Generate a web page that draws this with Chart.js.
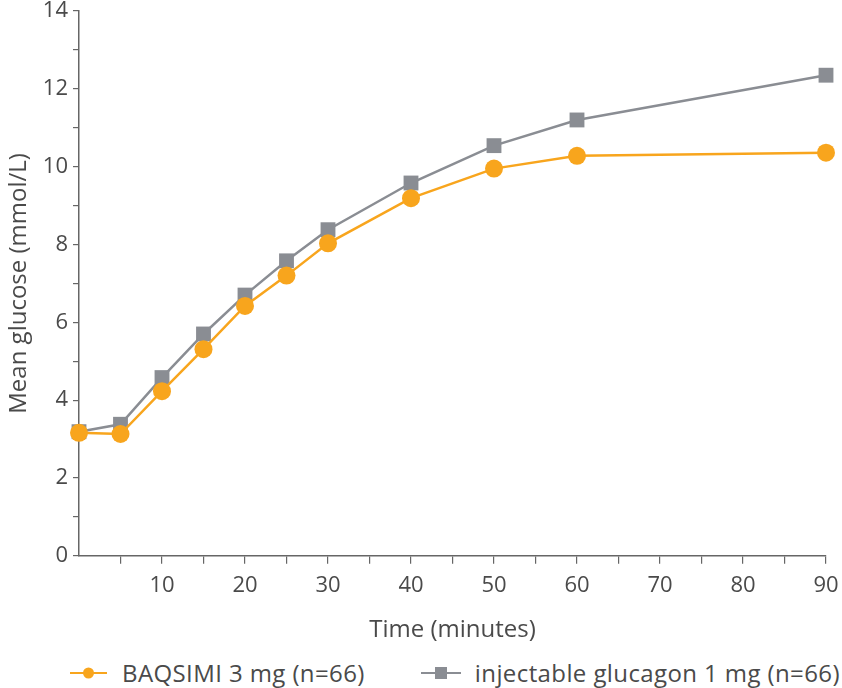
<!DOCTYPE html>
<html>
<head>
<meta charset="utf-8">
<script src="https://cdn.jsdelivr.net/npm/chart.js@4/dist/chart.umd.min.js"></script>
<style>
    html, body { margin: 0; padding: 0; background: #fff; }
    #wrap { position: relative; width: 842px; height: 688px; }
    #chartBox { position: absolute; left: 0; top: 0; width: 842px; height: 645px; }
    #legend {
        position: absolute; left: 70px; top: 656px; height: 34px;
        display: flex; align-items: center; white-space: nowrap;
        font-family: "Open Sans", "DejaVu Sans", sans-serif;
        font-size: 24px; line-height: 34px; letter-spacing: 0.4px; color: #4a4a4a;
    }
    .item { display: flex; align-items: center; }
    .item canvas { display: block; }
</style>
</head>
<body>
<div id="wrap">
    <div id="chartBox"><canvas id="myChart"></canvas></div>
    <div id="legend"></div>
</div>
<script>
const times = [0, 5, 10, 15, 20, 25, 30, 40, 50, 60, 90];
const baqsimi = [3.16, 3.13, 4.23, 5.31, 6.42, 7.2, 8.03, 9.19, 9.95, 10.28, 10.36];
const glucagon = [3.19, 3.38, 4.58, 5.7, 6.7, 7.58, 8.38, 9.58, 10.54, 11.2, 12.35];
const seriesNames = ['BAQSIMI 3 mg (n=66)', 'injectable glucagon 1 mg (n=66)'];

const orange = '#F8A51D';
const grey = '#8A8D93';
const axisColor = '#666666';
const textColor = '#4a4a4a';
const fontFamily = '"Open Sans", "DejaVu Sans", sans-serif';

function toPoints(values) {
    return times.map((t, i) => ({x: t, y: values[i]}));
}

// legend icon: short line with the marker on it
function legendIcon(color, shape, w) {
    const c = document.createElement('canvas');
    c.width = w;
    c.height = 16;
    const g = c.getContext('2d');
    g.strokeStyle = color;
    g.lineWidth = 2;
    g.beginPath();
    g.moveTo(0, 8);
    g.lineTo(w, 8);
    g.stroke();
    g.fillStyle = color;
    if (shape === 'circle') {
        g.beginPath();
        g.arc(w / 2, 8, 5.5, 0, Math.PI * 2);
        g.fill();
    } else {
        g.fillRect(w / 2 - 6, 2, 12, 12);
    }
    return c;
}

function buildLegend() {
    const legend = document.getElementById('legend');
    const specs = [
        {color: orange, shape: 'circle', w: 37, gap: 15, after: 56},
        {color: grey, shape: 'rect', w: 40, gap: 14, after: 0}
    ];
    specs.forEach((s, i) => {
        const item = document.createElement('div');
        item.className = 'item';
        item.style.marginRight = s.after + 'px';
        const icon = legendIcon(s.color, s.shape, s.w);
        icon.style.marginRight = s.gap + 'px';
        item.appendChild(icon);
        const span = document.createElement('span');
        span.textContent = seriesNames[i];
        item.appendChild(span);
        legend.appendChild(item);
    });
}

const ctx = document.getElementById('myChart').getContext('2d');
const chart = new Chart(ctx, {
    type: 'line',
    data: {
        datasets: [{
            label: seriesNames[0],
            data: toPoints(baqsimi),
            borderColor: orange,
            backgroundColor: orange,
            borderWidth: 2.5,
            pointStyle: 'circle',
            pointRadius: 9,
            pointBorderWidth: 0,
            tension: 0,
            clip: false
        }, {
            label: seriesNames[1],
            data: toPoints(glucagon),
            borderColor: grey,
            backgroundColor: grey,
            borderWidth: 2.5,
            pointStyle: 'rect',
            pointRadius: 10.5,
            pointBorderWidth: 0,
            tension: 0,
            clip: false
        }]
    },
    options: {
        responsive: true,
        maintainAspectRatio: false,
        animation: false,
        devicePixelRatio: 1,
        layout: {padding: 0},
        plugins: {
            tooltip: {enabled: false},
            legend: {display: false}
        },
        scales: {
            x: {
                type: 'linear',
                min: 0,
                max: 90,
                afterFit: (scale) => { scale.paddingRight = 16; },
                grid: {
                    drawOnChartArea: false,
                    tickLength: 8,
                    color: (c) => (c.tick && c.tick.value === 0) ? 'rgba(0,0,0,0)' : axisColor,
                    lineWidth: 1.2
                },
                border: {display: true, color: axisColor, width: 1.5},
                ticks: {
                    stepSize: 5,
                    autoSkip: false,
                    maxRotation: 0,
                    padding: 9,
                    color: textColor,
                    font: {family: fontFamily, size: 22},
                    callback: (v) => (v !== 0 && v % 10 === 0) ? v : ''
                },
                title: {
                    display: true,
                    text: 'Time (minutes)',
                    color: textColor,
                    font: {family: fontFamily, size: 24},
                    padding: {top: 8, bottom: 0}
                }
            },
            y: {
                min: 0,
                max: 14,
                afterFit: (scale) => { scale.width = 79; scale.paddingTop = 11; },
                grid: {
                    drawOnChartArea: false,
                    tickLength: 6,
                    color: axisColor,
                    lineWidth: 1.2
                },
                border: {display: true, color: axisColor, width: 1.5},
                ticks: {
                    stepSize: 1,
                    autoSkip: false,
                    padding: 5,
                    color: textColor,
                    font: {family: fontFamily, size: 22},
                    callback: (v) => (v % 2 === 0) ? v : ''
                },
                title: {
                    display: true,
                    text: 'Mean glucose (mmol/L)',
                    color: textColor,
                    font: {family: fontFamily, size: 24},
                    padding: {top: 5, bottom: 0}
                }
            }
        }
    }
});

buildLegend();
</script>
</body>
</html>
